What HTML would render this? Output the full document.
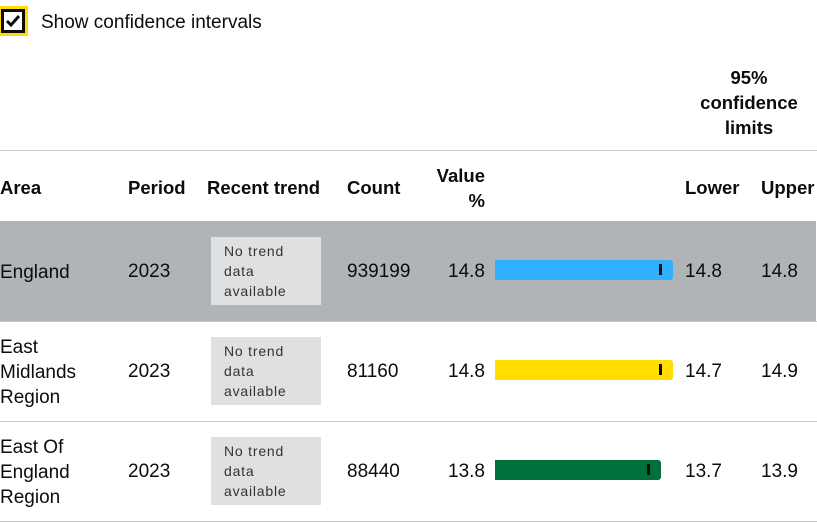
<!DOCTYPE html>
<html><head><meta charset="utf-8"><style>
body{margin:0;width:817px;height:522px;background:#fff;font-family:"Liberation Sans",sans-serif;color:#0b0c0c;position:relative;overflow:hidden}
.a{position:absolute}
.h{font-weight:bold;font-size:18.5px}
.t{font-size:19px}
.trend{position:absolute;left:211px;width:110px;height:68px;background:#dee0e2;font-size:14px;letter-spacing:0.8px;line-height:20px;padding:4px 0 0 13px;box-sizing:border-box;color:#333}
</style></head><body>
<div class="a" style="left:1px;top:9px;width:24px;height:24px;border:3px solid #0b0c0c;outline:3px solid #ffdd00;box-sizing:border-box;">
<svg width="18" height="18" style="position:absolute;left:0;top:0"><path d="M3 9 L7 13 L15 4" stroke="#0b0c0c" stroke-width="3" fill="none"/></svg></div>
<div class="a t" style="left:41px;top:12px">Show confidence intervals</div>
<div class="a h" style="left:689px;top:65px;width:120px;text-align:center;line-height:25px">95%<br>confidence<br>limits</div>
<div class="a" style="left:0;top:150px;width:817px;height:1px;background:#c8c8c8"></div>
<div class="a h" style="left:0;top:177px">Area</div>
<div class="a h" style="left:128px;top:177px">Period</div>
<div class="a h" style="left:207px;top:177px">Recent trend</div>
<div class="a h" style="left:347px;top:177px">Count</div>
<div class="a h" style="left:405px;width:80px;text-align:right;top:163px;line-height:25px">Value<br>%</div>
<div class="a h" style="left:685px;top:177px">Lower</div>
<div class="a h" style="left:761px;top:177px">Upper</div>
<div id="rows"></div>
<script>
const areas=["England","East Midlands Region","East Of England Region"];
const areaLines=[["England"],["East","Midlands","Region"],["East Of","England","Region"]];
const periods=["2023","2023","2023"];
const counts=["939199","81160","88440"];
const values=[14.8,14.8,13.8];
const lowers=[14.7,14.7,13.7];
const uppers=[14.8,14.9,13.9];
const lowerLabels=["14.8","14.7","13.7"];
const upperLabels=["14.8","14.9","13.9"];
const colors=["#2eb1ff","#ffdd00","#006f3c"];
const x0=495,k=12.03;
const x=v=>x0+v*k;
const root=document.getElementById('rows');
function add(parent,html,name,style){const d=document.createElement('div');d.className='a';d.style.cssText=style;d.innerHTML=html;


parent.appendChild(d);return d;}
areas.forEach((a,i)=>{
 const top=221+i*100;
 if(i===0){add(root,'','england-row-bg','left:0;top:'+top+'px;width:816px;height:100px;background:#b1b4b6');}
 add(root,'','row-divider','left:0;top:'+(top+100)+'px;width:817px;height:1px;background:#c8c8c8');
 const cy=top+51;
 const lines=areaLines[i];
 const fs='font-size:19px;';
 add(root,lines.join('<br>'),'area-name','left:0;top:'+(cy-lines.length*25/2)+'px;line-height:25px;'+fs);
 add(root,periods[i],'period','left:128px;top:'+(cy-11)+'px;'+fs);
 const tr=document.createElement('div');tr.className='trend';tr.style.top=(top+16)+'px';tr.innerHTML='No trend<br>data<br>available';
 
 
 root.appendChild(tr);
 add(root,counts[i],'count','left:347px;top:'+(cy-11)+'px;'+fs);
 add(root,values[i].toFixed(1),'value','left:385px;width:100px;text-align:right;top:'+(cy-11)+'px;'+fs);
 add(root,'','value-bar','left:'+x0+'px;top:'+(cy-12)+'px;width:'+(x(values[i])-x0)+'px;height:20px;border-radius:0 3px 3px 0;background:'+colors[i]);
 const lx=x(lowers[i])-12, ux=x(uppers[i])-12;
 add(root,'','ci-marker','left:'+(lx-1)+'px;top:'+(cy-8)+'px;width:'+Math.max(3,ux-lx)+'px;height:11px;background:#0b0c0c');
 add(root,lowerLabels[i],'lower-limit','left:685px;top:'+(cy-11)+'px;'+fs);
 add(root,upperLabels[i],'upper-limit','left:761px;top:'+(cy-11)+'px;'+fs);
});
</script>
</body></html>
